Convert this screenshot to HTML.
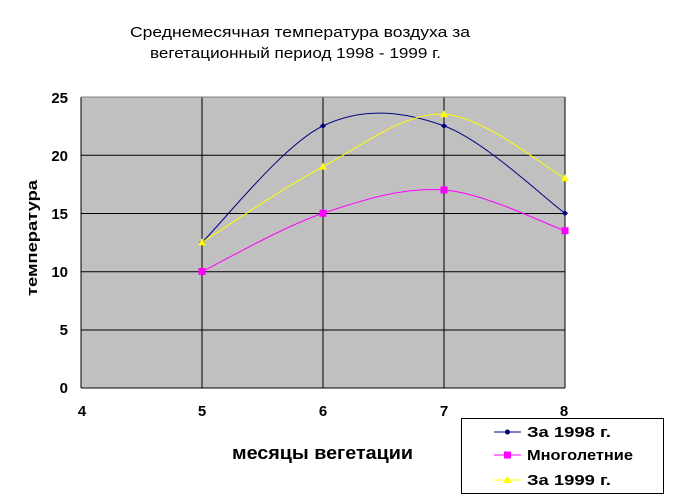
<!DOCTYPE html>
<html><head><meta charset="utf-8"><style>
body{margin:0;background:#fff;}
svg{display:block;font-family:"Liberation Sans",Arial,sans-serif;}
</style></head><body>
<svg id="s" width="673" height="501" xmlns="http://www.w3.org/2000/svg">
<rect x="81" y="97" width="484" height="291" fill="#c0c0c0"/>
<g stroke="#000" stroke-width="1">
<line x1="81" y1="155.25" x2="565" y2="155.25"/>
<line x1="81" y1="213.5" x2="565" y2="213.5"/>
<line x1="81" y1="271.75" x2="565" y2="271.75"/>
<line x1="81" y1="330" x2="565" y2="330"/>
<line x1="202" y1="97" x2="202" y2="388"/>
<line x1="323" y1="97" x2="323" y2="388"/>
<line x1="444" y1="97" x2="444" y2="388"/>
<line x1="565" y1="97" x2="565" y2="388"/>
<line x1="81" y1="97" x2="81" y2="388"/>
<line x1="81" y1="388" x2="565" y2="388"/>
</g>
<line x1="81" y1="97" x2="565" y2="97" stroke="#808080"/>
<g font-size="15" font-weight="bold" text-anchor="end">
<text x="68" y="103">25</text><text x="68" y="161">20</text><text x="68" y="219">15</text>
<text x="68" y="277">10</text><text x="68" y="335">5</text><text x="68" y="393">0</text>
</g>
<g font-size="15" font-weight="bold" text-anchor="middle">
<text x="82" y="416">4</text><text x="202" y="416">5</text><text x="323" y="416">6</text>
<text x="444" y="416">7</text><text x="564" y="416">8</text>
</g>
<g font-size="15">
<text x="130" y="37" textLength="340" lengthAdjust="spacingAndGlyphs">Среднемесячная температура воздуха за</text>
<text x="150" y="58" textLength="291" lengthAdjust="spacingAndGlyphs">вегетационный период 1998 - 1999 г.</text>
</g>
<text x="232" y="459" font-size="18" font-weight="bold" textLength="181" lengthAdjust="spacingAndGlyphs">месяцы вегетации</text>
<text transform="translate(37,296) rotate(-90)" font-size="15" font-weight="bold" textLength="116" lengthAdjust="spacingAndGlyphs">температура</text>
<g id="series"></g>
<rect x="461.5" y="418.5" width="202" height="75" fill="#fff" stroke="#000"/>
<line x1="494" y1="432" x2="521" y2="432" stroke="#000080"/>
<circle cx="507.5" cy="432" r="2.5" fill="#000080"/>
<line x1="494" y1="455" x2="521" y2="455" stroke="#ff00ff"/>
<rect x="504" y="451.5" width="7" height="7" fill="#ff00ff"/>
<line x1="494" y1="480" x2="521" y2="480" stroke="#ffff00"/>
<polygon points="507.5,476 511.5,483 503.5,483" fill="#ffff00"/>
<g font-size="15" font-weight="bold">
<text x="527" y="437" textLength="84" lengthAdjust="spacingAndGlyphs">За 1998 г.</text>
<text x="527" y="460" textLength="106" lengthAdjust="spacingAndGlyphs">Многолетние</text>
<text x="527" y="485" textLength="84" lengthAdjust="spacingAndGlyphs">За 1999 г.</text>
</g>
</svg>
<script>
var X=[202,323,444,565];function Y(v){return 388-11.65*v;}
var S=[{d:[12.5,22.5,22.5,15],c:"#000080",m:"d"},{d:[10,15,17,13.5],c:"#ff00ff",m:"s"},{d:[12.5,19,23.5,18],c:"#ffff00",m:"t"}];
var g=document.getElementById("series"),h="";
S.forEach(function(s){var p=s.d.map(function(v,i){return[X[i],Y(v)];});
var d="M"+p[0][0]+","+p[0][1];
for(var i=0;i<p.length-1;i++){var p0=p[Math.max(i-1,0)],p1=p[i],p2=p[i+1],p3=p[Math.min(i+2,p.length-1)];
d+=" C"+(p1[0]+(p2[0]-p0[0])/6)+","+(p1[1]+(p2[1]-p0[1])/6)+" "+(p2[0]-(p3[0]-p1[0])/6)+","+(p2[1]-(p3[1]-p1[1])/6)+" "+p2[0]+","+p2[1];}
h+='<path d="'+d+'" fill="none" stroke="'+s.c+'" stroke-width="1"/>';
p.forEach(function(q){if(s.m=="d")h+='<polygon points="'+q[0]+','+(q[1]-3)+' '+(q[0]+3)+','+q[1]+' '+q[0]+','+(q[1]+3)+' '+(q[0]-3)+','+q[1]+'" fill="'+s.c+'"/>';
else if(s.m=="s")h+='<rect x="'+(q[0]-3.5)+'" y="'+(q[1]-3.5)+'" width="7" height="7" fill="'+s.c+'"/>';
else h+='<polygon points="'+q[0]+','+(q[1]-4)+' '+(q[0]+4)+','+(q[1]+3)+' '+(q[0]-4)+','+(q[1]+3)+'" fill="'+s.c+'"/>';});});
g.innerHTML=h;
</script>
</body></html>
